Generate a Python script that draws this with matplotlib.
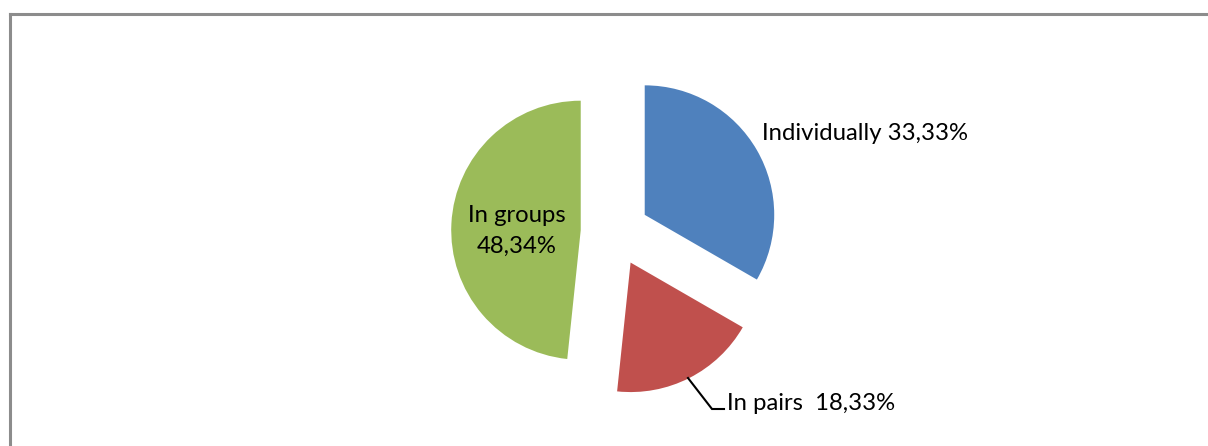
import matplotlib.pyplot as plt
from matplotlib.lines import Line2D

categories = ["Individually", "In pairs", "In groups"]
shares = [33.33, 18.33, 48.34]
colors = ["#4F81BD", "#C0504D", "#9BBB59"]

W, H, DPI = 1208, 446, 100
R_PX = 129.5          # pie radius in pixels
CX, CY = 615.0, 232.0  # pie centre, pixels from top-left


def pct(v: float) -> str:
    return f"{v:.2f}".replace(".", ",") + "%"


def main() -> None:
    plt.rcParams["font.family"] = ["Lato", "DejaVu Sans"]
    fig = plt.figure(figsize=(W / DPI, H / DPI), dpi=DPI)
    ax = fig.add_axes([0, 0, 1, 1])

    ax.pie(
        shares,
        colors=colors,
        startangle=90,
        counterclock=False,
        explode=[0.265] * len(shares),
        radius=1.0,
        wedgeprops=dict(linewidth=0),
    )
    ax.set_aspect("auto")
    ax.set_xlim(-CX / R_PX, (W - CX) / R_PX)
    ax.set_ylim(-(H - CY) / R_PX, CY / R_PX)
    ax.axis("off")

    def px(x, y):
        # pixel position -> data coords
        return (x - CX) / R_PX, (CY - y) / R_PX

    fs = 17.2
    ax.text(*px(762, 133), f"{categories[0]} {pct(shares[0])}",
            ha="left", va="center", fontsize=fs)
    ax.text(*px(517, 231), f"{categories[2]}\n{pct(shares[2])}",
            ha="center", va="center", fontsize=fs, linespacing=1.55)
    ax.text(*px(727, 404), f"{categories[1]}  {pct(shares[1])}",
            ha="left", va="center", fontsize=fs)
    # leader line for the small slice
    pts = [px(688, 378), px(712, 409), px(724, 409)]
    ax.plot([p[0] for p in pts], [p[1] for p in pts],
            color="black", linewidth=1.5, solid_joinstyle="miter")

    # chart frame (only top and left edges visible in the crop)
    fig.add_artist(Line2D([9.5 / W, 1], [1 - 14 / H, 1 - 14 / H],
                          color="#8c8c8c", linewidth=2.2))
    fig.add_artist(Line2D([9.5 / W, 9.5 / W], [0, 1 - 14 / H],
                          color="#8c8c8c", linewidth=2.2))

    fig.savefig("out.png", dpi=DPI)


if __name__ == "__main__":
    main()
